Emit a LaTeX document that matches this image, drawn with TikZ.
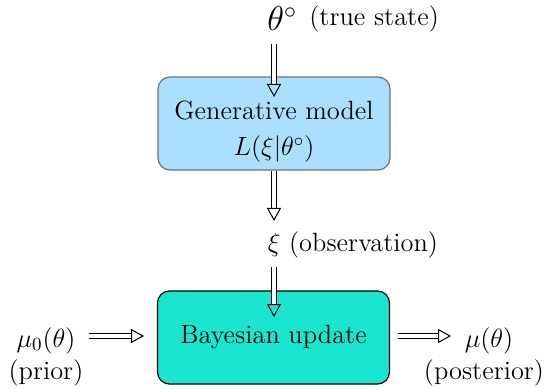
\RequirePackage{fix-cm}
\documentclass[tikz,border=0pt]{standalone}
\usetikzlibrary{arrows.meta}
\definecolor{genblue}{HTML}{AADFFF}
\definecolor{bayescyan}{HTML}{1AE6D0}
\definecolor{edgegray}{HTML}{707070}
\newcommand{\txtsize}{\fontsize{13.2}{16}\selectfont}
\begin{document}
\begin{tikzpicture}[x=0.5pt,y=-0.5pt,
  block/.style={rounded corners=6pt, minimum width=116pt, minimum height=46.5pt,
    line width=0.6pt, inner sep=0pt},
  lbl/.style={font=\txtsize, inner sep=0pt},
  dbl/.style={double, double distance=1.6pt, line width=0.5pt,
    -{Triangle[open, width=7pt, length=6.5pt]}}]
  \useasboundingbox (0,0) rectangle (550,389);

  % blocks
  \node[block, fill=genblue, draw=edgegray] (gen) at (274,123.5) {};
  \node[lbl, anchor=base] (genname) at (274,120) {Generative model};
  \node[lbl, anchor=base] (genlik) at (274,156) {$L(\xi|\theta^\circ)$};
  \node[block, fill=bayescyan, draw=black, font=\txtsize] (bayes) at (273.5,337.5)
    {Bayesian update};

  % labels
  \node[lbl, anchor=base west, font=\fontsize{17.28}{20}\selectfont] (theta) at (267,31)
    {$\theta^\circ$};
  \node[lbl, anchor=base west] (truth) at (309,26) {(true state)};
  \node[lbl, anchor=base] (obs) at (353,252) {$\xi$ (observation)};
  \node[lbl, anchor=base] (prior) at (46,347) {$\mu_0(\theta)$};
  \node[lbl, anchor=base] (priorname) at (46,379) {(prior)};
  \node[lbl, anchor=base] (post) at (489,347) {$\mu(\theta)$};
  \node[lbl, anchor=base] (postname) at (484,379) {(posterior)};

  % arrow end points
  \coordinate (t0) at (274,44);
  \coordinate (t1) at (274,97);
  \coordinate (m1) at (274,221);
  \coordinate (b0) at (274,267);
  \coordinate (b1) at (274,317);
  \coordinate (l0) at (89,336);
  \coordinate (l1) at (144,336);
  \coordinate (r0) at (398,336);
  \coordinate (r1) at (451,336);

  % connectors
  \draw[dbl] (t0) -- (t1);
  \draw[dbl] (gen.south -| m1) -- (m1);
  \draw[dbl] (b0) -- (b1);
  \draw[dbl] (l0) -- (l1);
  \draw[dbl] (r0) -- (r1);
\end{tikzpicture}
\end{document}
